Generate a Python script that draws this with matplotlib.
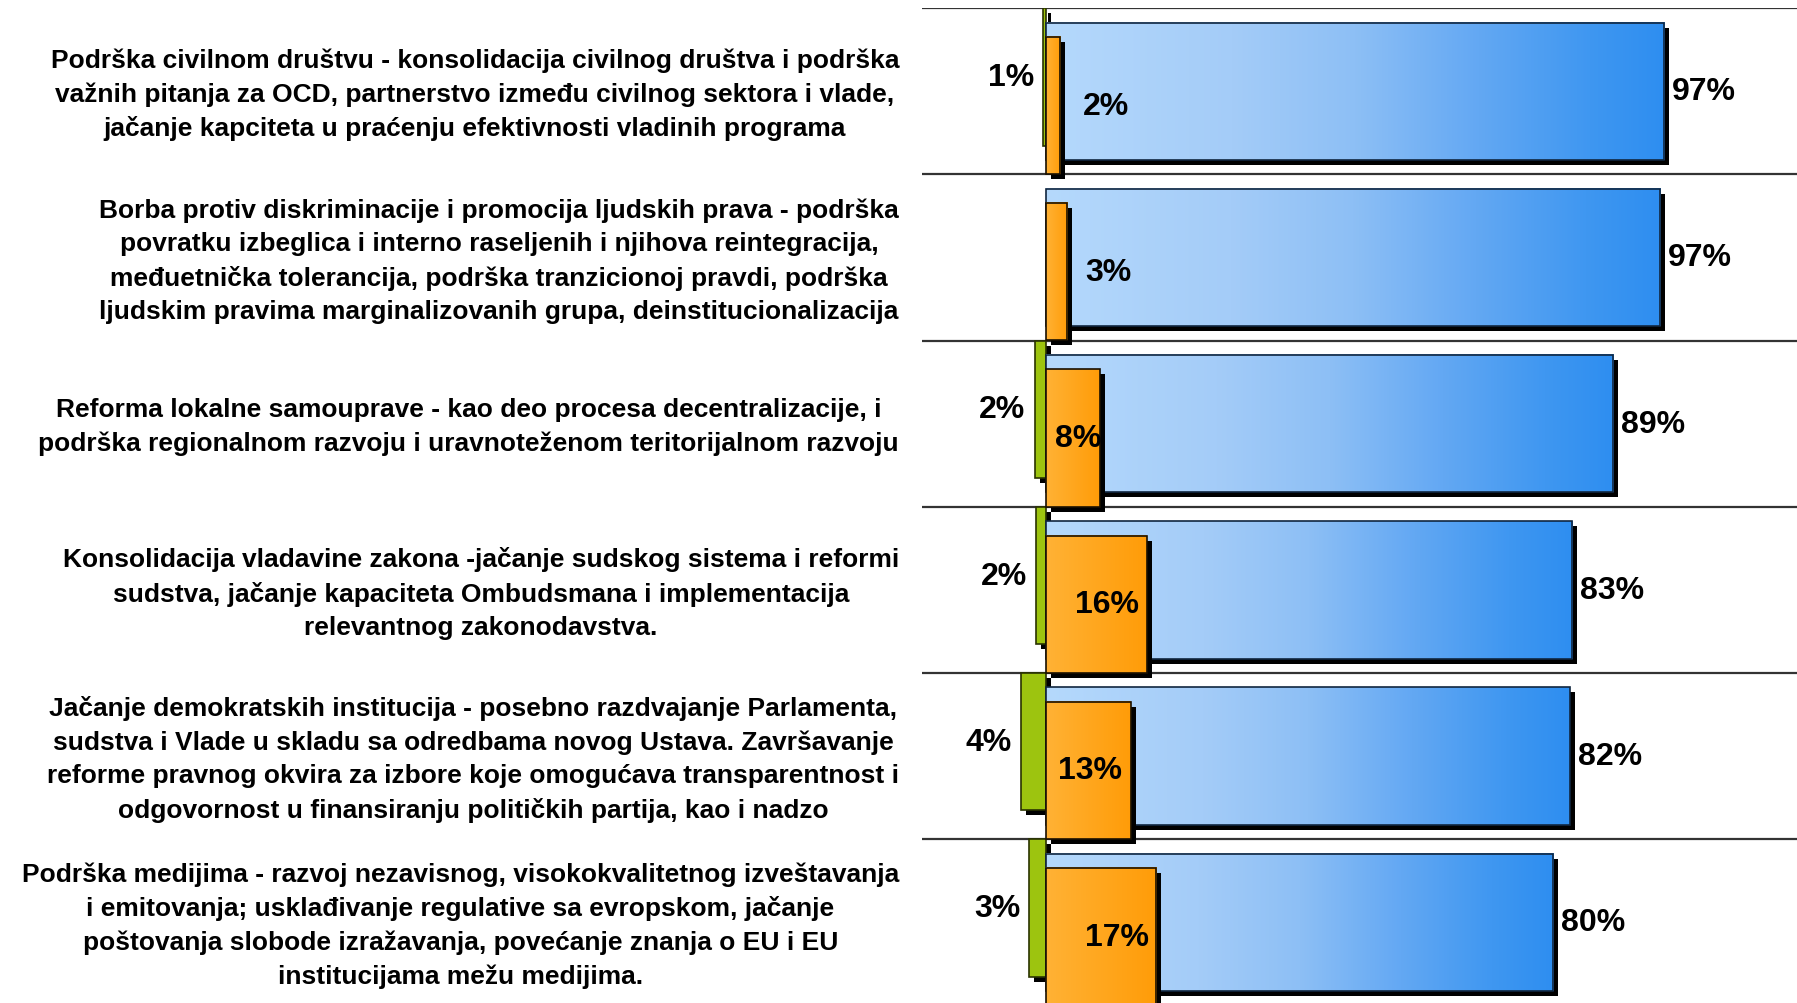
import matplotlib
matplotlib.use("Agg")
import matplotlib.pyplot as plt
import numpy as np
from matplotlib.patches import Rectangle
from matplotlib.colors import LinearSegmentedColormap
from matplotlib.transforms import ScaledTranslation, blended_transform_factory

# ---------------- data ----------------
categories = [
    "Podrška civilnom društvu - konsolidacija civilnog društva i podrška\n"
    "važnih pitanja za OCD, partnerstvo između civilnog sektora i vlade,\n"
    "jačanje kapciteta u praćenju efektivnosti vladinih programa",
    "Borba protiv diskriminacije i promocija ljudskih prava - podrška\n"
    "povratku izbeglica i interno raseljenih i njihova reintegracija,\n"
    "međuetnička tolerancija, podrška tranzicionoj pravdi, podrška\n"
    "ljudskim pravima marginalizovanih grupa, deinstitucionalizacija",
    "Reforma lokalne samouprave - kao deo procesa decentralizacije, i\n"
    "podrška regionalnom razvoju i uravnoteženom teritorijalnom razvoju",
    "Konsolidacija vladavine zakona -jačanje sudskog sistema i reformi\n"
    "sudstva, jačanje kapaciteta Ombudsmana i implementacija\n"
    "relevantnog zakonodavstva.",
    "Jačanje demokratskih institucija - posebno razdvajanje Parlamenta,\n"
    "sudstva i Vlade u skladu sa odredbama novog Ustava. Završavanje\n"
    "reforme pravnog okvira za izbore koje omogućava transparentnost i\n"
    "odgovornost u finansiranju političkih partija, kao i nadzo",
    "Podrška medijima - razvoj nezavisnog, visokokvalitetnog izveštavanja\n"
    "i emitovanja; usklađivanje regulative sa evropskom, jačanje\n"
    "poštovanja slobode izražavanja, povećanje znanja o EU i EU\n"
    "institucijama mežu medijima.",
]
green_values = [0.5, 0.0, 1.8, 1.5, 4.0, 2.6]
orange_values = [2.2, 3.3, 8.4, 15.8, 13.3, 17.3]
blue_values = [97.0, 96.4, 89.0, 82.6, 82.2, 79.6]
green_labels = ["1%", "", "2%", "2%", "4%", "3%"]
orange_labels = ["2%", "3%", "8%", "16%", "13%", "17%"]
blue_labels = ["97%", "97%", "89%", "83%", "82%", "80%"]

# layout (label centres for orange series, in axis units)
orange_label_x = [9.4, 9.8, 5.1, 9.5, 6.9, 11.2]

# ---------------- figure ----------------
W, H, DPI = 1797, 1004, 100
fig = plt.figure(figsize=(W / DPI, H / DPI), dpi=DPI)
fig.patch.set_facecolor("white")

ax_left = 922 / W
ax_top = 1 - 9.2 / H
ax_h = 6 * 166.2 / H
ax = fig.add_axes([ax_left, ax_top - ax_h, 1 - ax_left, ax_h])
ax.set_facecolor("white")
for s in ax.spines.values():
    s.set_visible(False)
ax.set_xticks([])
ax.set_yticks([])

FONT = "Liberation Sans"
VAL_FS = 23
BAR_H = 0.826
OFF = 0.086

blue_cmap = LinearSegmentedColormap.from_list(
    "blue", [(0.0, "#B5D9FC"), (0.3, "#A4CCF8"), (0.5, "#8DBFF5"),
             (0.7, "#63A8F3"), (0.88, "#3F97F1"), (1.0, "#2E8EF0")])
orange_cmap = LinearSegmentedColormap.from_list(
    "orange", [(0.0, "#FFB235"), (1.0, "#FF9C08")])
grad = np.linspace(0, 1, 256).reshape(1, -1)

shadow_tr = ax.transData + ScaledTranslation(5 / DPI, -5 / DPI, fig.dpi_scale_trans)


def draw_bar(x0, x1, yc, face=None, cmap=None, edge="black", z=2):
    y0 = yc - BAR_H / 2
    w = x1 - x0
    if w <= 0:
        return
    ax.add_patch(Rectangle((x0, y0), w, BAR_H, facecolor="black",
                           edgecolor="none", transform=shadow_tr, zorder=z))
    if cmap is not None:
        ax.imshow(grad, cmap=cmap, aspect="auto", extent=(x0, x1, y0 + BAR_H, y0),
                  interpolation="bilinear", zorder=z + 0.1)
        ax.add_patch(Rectangle((x0, y0), w, BAR_H, facecolor="none",
                               edgecolor=edge, lw=1.2, zorder=z + 0.2))
    else:
        ax.add_patch(Rectangle((x0, y0), w, BAR_H, facecolor=face,
                               edgecolor=edge, lw=1.2, zorder=z + 0.2))


n = len(categories)
for i in range(n):
    # green (negative side)
    draw_bar(-green_values[i], 0, i - OFF, face="#9DC40F", edge="#2A3300", z=2)
    # blue
    draw_bar(0, blue_values[i], i, cmap=blue_cmap, edge="#10263F", z=3)
    # orange
    draw_bar(0, orange_values[i], i + OFF, cmap=orange_cmap, edge="#1A1000", z=4)

    if green_labels[i]:
        ax.annotate(green_labels[i], xy=(-green_values[i], i - OFF),
                    xytext=(-9, 0), textcoords="offset pixels",
                    ha="right", va="center", fontsize=VAL_FS, fontweight="bold",
                    family=FONT, zorder=6)
    ax.annotate(blue_labels[i], xy=(blue_values[i], i),
                xytext=(8, 0), textcoords="offset pixels",
                ha="left", va="center", fontsize=VAL_FS, fontweight="bold",
                family=FONT, zorder=6)
    ax.text(orange_label_x[i], i + OFF, orange_labels[i], ha="center",
            va="center", fontsize=VAL_FS, fontweight="bold", family=FONT, zorder=6)

# separator lines
for k in range(n + 1):
    ax.axhline(k - 0.5, color="#333333", lw=1.6, zorder=1)

ax.set_xlim(-19.46, 117.86)
ax.set_ylim(n - 0.5, -0.5)

# category labels
tr = blended_transform_factory(fig.transFigure, ax.transData)
for i, c in enumerate(categories):
    ax.text(899 / W, i + 0.015, c, transform=tr, ha="right", va="center",
            multialignment="center", fontsize=19, fontweight="bold",
            family=FONT, linespacing=1.48, clip_on=False)

fig.savefig("out.png", dpi=DPI, facecolor="white")
